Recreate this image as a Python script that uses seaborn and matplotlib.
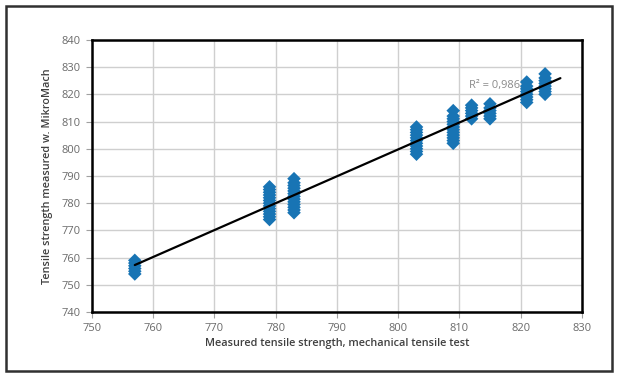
import numpy as np
import pandas as pd
import matplotlib
matplotlib.use("Agg")
import matplotlib.pyplot as plt
from matplotlib.patches import Rectangle
import seaborn as sns

# ---- data ----
x_groups = [757, 779, 783, 803, 809, 812, 815, 821, 824]
y_757 = [754, 755, 756, 757, 758, 759]
y_779 = [774, 775, 776, 777, 778, 779, 780, 781, 782, 783, 784, 785, 786]
y_783 = [776.5, 777.5, 778.5, 779.5, 780.5, 781.5, 782.5, 783.5, 784.5, 785.5, 786.5, 787.5, 789]
y_803 = [798, 799, 800, 801, 802, 803, 804, 805, 806, 807, 808]
y_809 = [802, 803, 804, 805, 806, 807, 808, 809, 810, 811, 812, 814]
y_812 = [811, 812, 813, 814, 815, 816]
y_815 = [811, 812, 813, 814, 815, 816.5]
y_821 = [817, 818, 819, 820, 821, 822, 823, 824.5]
y_824 = [820, 821, 822, 823, 824, 825, 826, 827.5]
y_groups = [y_757, y_779, y_783, y_803, y_809, y_812, y_815, y_821, y_824]

trend_forward = 2.5
r2_label = "R² = 0,9863"
x_ticks = [750, 760, 770, 780, 790, 800, 810, 820, 830]
y_ticks = [740, 750, 760, 770, 780, 790, 800, 810, 820, 830, 840]
x_label = "Measured tensile strength, mechanical tensile test"
y_label = "Tensile strength measured w. MikroMach"

rows = [(xg, yv) for xg, ys in zip(x_groups, y_groups) for yv in ys]
df = pd.DataFrame(rows, columns=["measured", "mikromach"])

sns.set_theme(style="white")
plt.rcParams["font.family"] = ["Open Sans", "DejaVu Sans"]

fig = plt.figure(figsize=(6.17, 3.76), dpi=100)
ax = fig.add_axes([0.149, 0.170, 0.794, 0.724])

ax.set_xlim(x_ticks[0], x_ticks[-1])
ax.set_ylim(y_ticks[0], y_ticks[-1])
ax.set_xticks(x_ticks)
ax.set_yticks(y_ticks)
ax.grid(True, color="#cfcfcf", linewidth=1.0)
ax.set_axisbelow(True)

ax.text(811.6, 823.3, r2_label, fontsize=8, color="#8a8a8a", zorder=2, ha="left", va="center")

sns.scatterplot(data=df, x="measured", y="mikromach", marker="D", s=48,
                color="#1874b4", edgecolor="none", linewidth=0, ax=ax, zorder=3)

# linear trendline (Excel style, forecast forward)
coef = np.polyfit(df["measured"], df["mikromach"], 1)
xl = np.array([df["measured"].min(), df["measured"].max() + trend_forward])
ax.plot(xl, np.polyval(coef, xl), color="black", linewidth=1.6, zorder=4)

for sp in ax.spines.values():
    sp.set_visible(True)
    sp.set_color("black")
    sp.set_linewidth(1.8)

ax.tick_params(axis="both", which="major", direction="out", length=4, width=0.8,
               color="#a0a0a0", labelsize=8, labelcolor="#6a6a6a", pad=4,
               left=True, bottom=True)
ax.set_xlabel(x_label, fontsize=7.8, fontweight="semibold", color="#404040", labelpad=3)
ax.set_ylabel(y_label, fontsize=7.8, fontweight="semibold", color="#404040", labelpad=6)

fig.patches.append(Rectangle((0.009, 0.013), 0.983, 0.972, transform=fig.transFigure,
                             fill=False, edgecolor="#303030", linewidth=1.8))

fig.savefig("out.png", dpi=100)
